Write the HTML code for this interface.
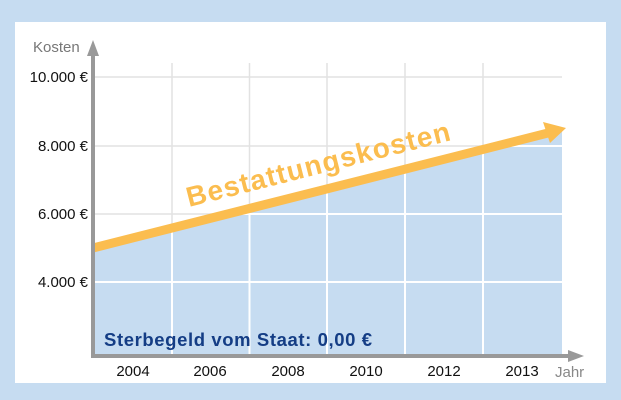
<!DOCTYPE html>
<html><head><meta charset="utf-8"><style>
html,body{margin:0;padding:0;}
body{width:621px;height:400px;background:#c6dcf1;overflow:hidden;}
svg{display:block;font-family:"Liberation Sans",sans-serif;}
</style></head><body>
<svg width="621" height="400" viewBox="0 0 621 400">
<rect x="0" y="0" width="621" height="400" fill="#c6dcf1"/>
<rect x="15" y="22" width="591" height="361" fill="#fff"/>
<polygon points="93,250 562,131 562,356 93,356" fill="#c6dcf1"/>
<g stroke="#e2e2e2" stroke-width="1.5">
<line x1="93" y1="77" x2="562" y2="77"/>
<line x1="93" y1="146" x2="562" y2="146"/>
<line x1="93" y1="214" x2="562" y2="214"/>
<line x1="93" y1="282" x2="562" y2="282"/>
<line x1="172" y1="63" x2="172" y2="356"/>
<line x1="249.5" y1="63" x2="249.5" y2="356"/>
<line x1="327" y1="63" x2="327" y2="356"/>
<line x1="405" y1="63" x2="405" y2="356"/>
<line x1="483" y1="63" x2="483" y2="356"/>
</g>
<clipPath id="c"><polygon points="93,250 562,131 562,356 93,356"/></clipPath>
<g stroke="#fff" stroke-width="2" clip-path="url(#c)">
<line x1="93" y1="77" x2="562" y2="77"/>
<line x1="93" y1="146" x2="562" y2="146"/>
<line x1="93" y1="214" x2="562" y2="214"/>
<line x1="93" y1="282" x2="562" y2="282"/>
<line x1="172" y1="63" x2="172" y2="356"/>
<line x1="249.5" y1="63" x2="249.5" y2="356"/>
<line x1="327" y1="63" x2="327" y2="356"/>
<line x1="405" y1="63" x2="405" y2="356"/>
<line x1="483" y1="63" x2="483" y2="356"/>
</g>
<line x1="93" y1="248" x2="548" y2="133" stroke="#fbbd4f" stroke-width="9"/>
<polygon points="566,128 543,122 550,143" fill="#fbbd4f"/>
<text transform="translate(189,207) rotate(-14.3)" font-size="28" font-weight="bold" fill="#fbbd4f" letter-spacing="1.2">Bestattungskosten</text>
<line x1="93" y1="52" x2="93" y2="357" stroke="#999" stroke-width="4"/>
<polygon points="93,40 87,56 99,56" fill="#999"/>
<line x1="91" y1="356" x2="572" y2="356" stroke="#999" stroke-width="4"/>
<polygon points="584,356 568,350 568,362" fill="#999"/>
<text x="33" y="52" font-size="15" fill="#777">Kosten</text>
<g font-size="15" fill="#111" text-anchor="end">
<text x="88" y="82">10.000 €</text>
<text x="88" y="151">8.000 €</text>
<text x="88" y="219">6.000 €</text>
<text x="88" y="287">4.000 €</text>
</g>
<g font-size="15" fill="#111" text-anchor="middle">
<text x="133" y="376">2004</text>
<text x="210" y="376">2006</text>
<text x="288" y="376">2008</text>
<text x="366" y="376">2010</text>
<text x="444" y="376">2012</text>
<text x="522" y="376">2013</text>
</g>
<text x="555" y="377" font-size="15" fill="#888">Jahr</text>
<text x="104" y="346" font-size="18.5" font-weight="bold" fill="#143d85" letter-spacing="0.6">Sterbegeld vom Staat: 0,00 €</text>
</svg>
</body></html>
